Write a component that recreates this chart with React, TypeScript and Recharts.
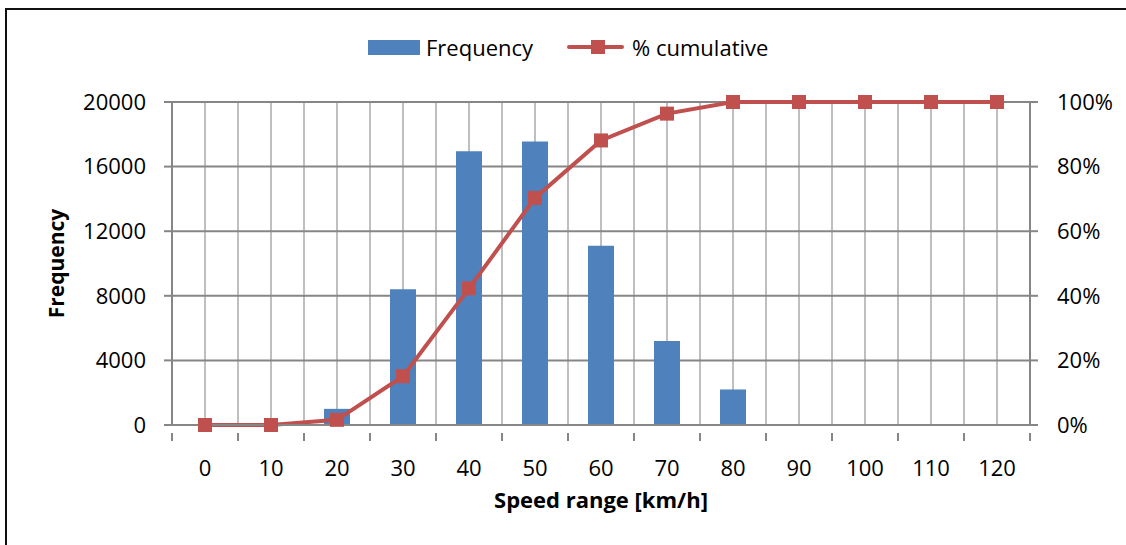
import React from "react"
import {
  ComposedChart,
  Bar,
  Line,
  XAxis,
  YAxis,
  CartesianGrid,
  Label,
} from "recharts"

// speed classes (km/h)
const speedRanges = ["0", "10", "20", "30", "40", "50", "60", "70", "80", "90", "100", "110", "120"]
// number of observations per class
const frequency = [0, 0, 1000, 8400, 16950, 17550, 11100, 5200, 2200, 0, 0, 0, 0]
// cumulative share in percent
const cumulative = [0, 0, 1.6, 15.1, 42.3, 70.3, 88.1, 96.4, 100, 100, 100, 100, 100]

const freqTicks = [0, 4000, 8000, 12000, 16000, 20000]
const pctTicks = [0, 20, 40, 60, 80, 100]

const data = speedRanges.map((s, i) => ({
  speed: s,
  frequency: frequency[i],
  cumulative: cumulative[i],
}))

const BLUE = "#4f81bd"
const RED = "#c0504d"
const AXIS = "#868686"
const GRID_LIGHT = "#bfbfbf"
const FONT = "'Open Sans', sans-serif"

const W = 1126
const H = 545
const margin = { top: 102, right: 0, bottom: 60, left: 72 }
const LEFT_W = 100
const RIGHT_W = 96
const PLOT_W = W - margin.left - margin.right - LEFT_W - RIGHT_W
const STEP = PLOT_W / speedRanges.length

// minor + major vertical gridlines: category centres and boundaries
const verticalLines = ({ offset }: any) => {
  const out: number[] = []
  for (let i = 0; i <= speedRanges.length * 2; i++) {
    out.push(offset.left + (i * offset.width) / (speedRanges.length * 2))
  }
  return out
}

const XTick = (props: any) => {
  const { x, y, payload, index } = props
  const left = x - STEP / 2
  const right = x + STEP / 2
  return (
    <g>
      <line x1={left} y1={y} x2={left} y2={y + 8} stroke={AXIS} strokeWidth={2} />
      {index === speedRanges.length - 1 && (
        <line x1={right} y1={y} x2={right} y2={y + 8} stroke={AXIS} strokeWidth={2} />
      )}
      <text x={x} y={y + 43} textAnchor="middle" fontSize={22} fontFamily={FONT} fill="#000">
        {payload.value}
      </text>
    </g>
  )
}

const SquareDot = (props: any) => {
  const { cx, cy } = props
  if (cx == null || cy == null) return null
  return <rect x={cx - 7} y={cy - 7} width={14} height={14} fill={RED} />
}

const XTitle = (props: any) => {
  const vb = props.viewBox
  return (
    <text
      x={vb.x + vb.width / 2}
      y={vb.y + 83}
      textAnchor="middle"
      fontSize={22}
      fontWeight="bold"
      fontFamily={FONT}
      fill="#000"
    >
      Speed range [km/h]
    </text>
  )
}

const YTitle = (props: any) => {
  const vb = props.viewBox
  const cx = margin.left - 8
  const cy = vb.y + vb.height / 2
  return (
    <text
      x={cx}
      y={cy}
      transform={`rotate(-90 ${cx} ${cy})`}
      textAnchor="middle"
      fontSize={21}
      fontWeight="bold"
      fontFamily={FONT}
      fill="#000"
    >
      Frequency
    </text>
  )
}

const LegendBox = () => (
  <div
    style={{
      position: "absolute",
      left: 368,
      top: 31,
      display: "flex",
      alignItems: "center",
      fontFamily: FONT,
      fontSize: 22,
      color: "#000",
      lineHeight: "32px",
    }}
  >
    <div style={{ width: 52, height: 15, background: BLUE }} />
    <span style={{ marginLeft: 6 }}>Frequency</span>
    <svg width={57} height={16} style={{ marginLeft: 34 }}>
      <line x1={2} y1={8} x2={55} y2={8} stroke={RED} strokeWidth={4} strokeLinecap="round" />
      <rect x={24} y={1} width={14} height={14} fill={RED} />
    </svg>
    <span style={{ marginLeft: 8 }}>% cumulative</span>
  </div>
)

export default function App() {
  return (
    <div
      style={{
        position: "absolute",
        left: 0,
        top: 0,
        width: W,
        height: H,
        overflow: "hidden",
        background: "#fff",
      }}
    >
      {/* frame: only the top and left edges fall inside the picture */}
      <div style={{ position: "absolute", left: 5, top: 8, width: W, height: 2, background: "#111" }} />
      <div style={{ position: "absolute", left: 5, top: 8, width: 2, height: H, background: "#111" }} />
      <ComposedChart width={W} height={H} data={data} margin={margin}>
        <CartesianGrid
          yAxisId="left"
          horizontal={false}
          stroke={GRID_LIGHT}
          strokeWidth={2}
          verticalCoordinatesGenerator={verticalLines}
        />
        <CartesianGrid yAxisId="left" vertical={false} stroke={AXIS} strokeWidth={2} />
        <XAxis
          dataKey="speed"
          height={margin.bottom}
          axisLine={{ stroke: AXIS, strokeWidth: 2 }}
          tickLine={false}
          tick={<XTick />}
          interval={0}
        >
          <Label content={<XTitle />} />
        </XAxis>
        <YAxis
          yAxisId="left"
          orientation="left"
          width={LEFT_W}
          domain={[0, 20000]}
          ticks={freqTicks}
          interval={0}
          axisLine={{ stroke: AXIS, strokeWidth: 2 }}
          tickLine={{ stroke: AXIS, strokeWidth: 2 }}
          tickSize={8}
          tickMargin={18}
          tick={{ fontSize: 22, fontFamily: FONT, fill: "#000" }}
        >
          <Label content={<YTitle />} />
        </YAxis>
        <YAxis
          yAxisId="right"
          orientation="right"
          width={RIGHT_W}
          domain={[0, 100]}
          ticks={pctTicks}
          interval={0}
          tickFormatter={(v: number) => `${v}%`}
          axisLine={{ stroke: AXIS, strokeWidth: 2 }}
          tickLine={{ stroke: AXIS, strokeWidth: 2 }}
          tickSize={8}
          tickMargin={19}
          tick={{ fontSize: 22, fontFamily: FONT, fill: "#000", textAnchor: "start" }}
        />
        <Bar
          yAxisId="left"
          dataKey="frequency"
          fill={BLUE}
          barSize={26}
          isAnimationActive={false}
        />
        <Line
          yAxisId="right"
          dataKey="cumulative"
          stroke={RED}
          strokeWidth={4}
          dot={<SquareDot />}
          activeDot={false}
          type="linear"
          isAnimationActive={false}
        />
      </ComposedChart>
      <LegendBox />
    </div>
  )
}
